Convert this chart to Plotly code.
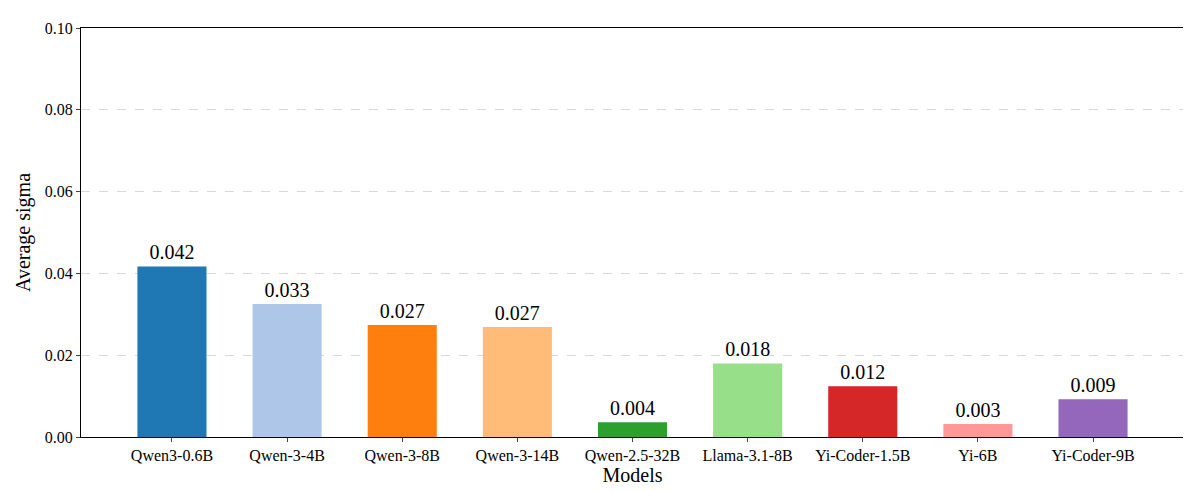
import plotly.graph_objects as go

models = ["Qwen3-0.6B", "Qwen-3-4B", "Qwen-3-8B", "Qwen-3-14B", "Qwen-2.5-32B",
          "Llama-3.1-8B", "Yi-Coder-1.5B", "Yi-6B", "Yi-Coder-9B"]
sigma = [0.0417, 0.0325, 0.0274, 0.0269, 0.0036, 0.0180, 0.0124, 0.0032, 0.0092]
colors = ["#1f77b4", "#aec7e8", "#ff7f0e", "#ffbb78", "#2ca02c",
          "#98df8a", "#d62728", "#ff9896", "#9467bd"]

fig = go.Figure(go.Bar(
    x=list(range(len(models))), y=sigma, width=0.6,
    marker=dict(color=colors, line=dict(width=0)),
    text=[f"{v:.3f}" for v in sigma], textposition="outside",
    textfont=dict(size=20, color="black"), cliponaxis=False,
))

fig.update_layout(
    width=1191, height=491,
    margin=dict(l=73, r=15, t=17, b=62),
    plot_bgcolor="white", paper_bgcolor="white",
    font=dict(family="Liberation Serif", color="black", size=16),
    showlegend=False,
)
fig.update_xaxes(
    tickvals=list(range(len(models))), ticktext=models, range=[-0.79, 8.79],
    title=dict(text="Models", font=dict(size=20), standoff=4),
    showline=True, linecolor="black", mirror=True, ticks="outside", ticklen=4,
    tickfont=dict(size=16),
)
fig.update_yaxes(
    range=[0, 0.1], dtick=0.02, tickformat=".2f",
    title=dict(text="Average sigma", font=dict(size=20), standoff=8),
    showline=True, linecolor="black", mirror=True, ticks="outside", ticklen=4,
    showgrid=True, gridcolor="#d9d9d9", griddash="dash", zeroline=False,
    tickfont=dict(size=16),
)

fig.write_html("out.html")
